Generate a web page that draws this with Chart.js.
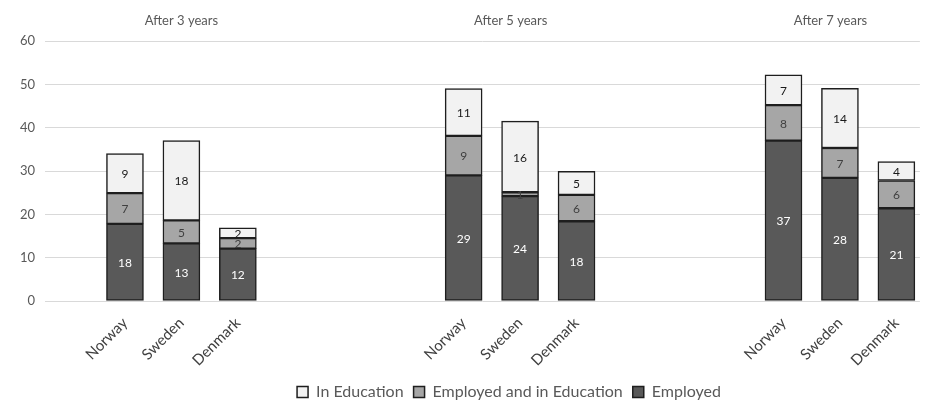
<!DOCTYPE html>
<html>
<head>
<meta charset="utf-8">
<script src="https://cdn.jsdelivr.net/npm/chart.js@4.4.1/dist/chart.umd.min.js"></script>
<style>
  html, body { margin: 0; padding: 0; background: #ffffff; }
  #wrap { width: 933px; height: 414px; }
</style>
</head>
<body>
<div id="wrap"><canvas id="c" width="933" height="414"></canvas></div>
<script>
// ---- data ----
const groups = ['After 3 years', 'After 5 years', 'After 7 years'];
const countries = ['Norway', 'Sweden', 'Denmark'];
const seriesNames = ['Employed', 'Employed and in Education', 'In Education'];
// order: [3y: N,S,D, 5y: N,S,D, 7y: N,S,D]
const employed    = [17.8, 13.3, 12.1, 29.0, 24.2, 18.4, 37.0, 28.4, 21.4];
const employedEdu = [ 7.1,  5.3,  2.4,  9.1,  0.9,  6.1,  8.2,  6.9,  6.4];
const inEducation = [ 9.1, 18.4,  2.4, 10.9, 16.4,  5.4,  7.0, 13.8,  4.4];
const yTicks = [0, 10, 20, 30, 40, 50, 60];

// ---- layout of category slots (blank slots separate the groups) ----
const SLOTS = 93;
const groupStart = [8, 44, 78];
const step = 6;
const titleSlot = [14, 49, 83];

const bottomLabels = new Array(SLOTS).fill('');
const topLabels = new Array(SLOTS).fill('');
const barSlots = [];
groups.forEach((g, gi) => {
  countries.forEach((c, ci) => {
    const s = groupStart[gi] + ci * step;
    bottomLabels[s] = c;
    barSlots.push(s);
  });
  topLabels[titleSlot[gi]] = g;
});
function spread(values) {
  const arr = new Array(SLOTS).fill(null);
  values.forEach((v, i) => { arr[barSlots[i]] = v; });
  return arr;
}

const FONT = "Lato, 'Open Sans', sans-serif";
const colors = ['#595959', '#a6a6a6', '#f2f2f2'];
const labelColors = ['#ffffff', '#404040', '#1a1a1a'];
const seriesValues = [employed, employedEdu, inEducation];

const datasets = seriesValues.map((vals, i) => ({
  label: seriesNames[i],
  data: spread(vals),
  backgroundColor: colors[i],
  borderColor: '#1e1e1e',
  borderWidth: 1.5,
  borderSkipped: false,
  barThickness: 37,
  xAxisID: 'x',
  yAxisID: 'y'
}));

const valueLabels = {
  id: 'valueLabels',
  afterDatasetsDraw(chart) {
    const ctx = chart.ctx;
    ctx.save();
    ctx.font = '12px ' + FONT;
    ctx.textAlign = 'center';
    ctx.textBaseline = 'middle';
    chart.data.datasets.forEach((ds, di) => {
      const meta = chart.getDatasetMeta(di);
      meta.data.forEach((el, idx) => {
        const v = ds.data[idx];
        if (v === null || v === undefined) return;
        const p = el.getProps(['x', 'y', 'base'], true);
        ctx.fillStyle = labelColors[di];
        ctx.fillText(String(Math.round(v)), p.x, (p.y + p.base) / 2 + 1);
      });
    });
    ctx.restore();
  }
};

// shift the legend to the right, as in the original layout
const legendShift = {
  id: 'legendShift',
  afterLayout(chart) {
    if (chart.legend) {
      chart.legend.left += 44;
      chart.legend.right += 44;
    }
  }
};

new Chart(document.getElementById('c'), {
  type: 'bar',
  data: { labels: bottomLabels, datasets },
  options: {
    responsive: false,
    devicePixelRatio: 1,
    animation: false,
    layout: { padding: { left: 0, right: 3, top: 0, bottom: 4 } },
    plugins: {
      legend: {
        position: 'bottom',
        reverse: true,
        labels: {
          boxWidth: 11,
          boxHeight: 11,
          padding: 10,
          color: '#595959',
          font: { family: FONT, size: 16 }
        }
      },
      tooltip: { enabled: false }
    },
    scales: {
      x: {
        type: 'category',
        position: 'bottom',
        stacked: true,
        grid: { display: false },
        border: { display: false },
        ticks: {
          autoSkip: false,
          minRotation: 45,
          maxRotation: 45,
          padding: 5,
          color: '#404040',
          font: { family: FONT, size: 15 }
        },
        afterFit(s) { s.height = 73; }
      },
      xTop: {
        type: 'category',
        position: 'top',
        labels: topLabels,
        grid: { display: false },
        border: { display: false },
        ticks: {
          autoSkip: false,
          minRotation: 0,
          maxRotation: 0,
          padding: 4,
          color: '#595959',
          font: { family: FONT, size: 13 }
        },
        afterFit(s) { s.height = 41; }
      },
      y: {
        stacked: true,
        min: 0,
        max: 60,
        afterBuildTicks(s) { s.ticks = yTicks.map(v => ({ value: v })); },
        grid: { color: '#d9d9d9', lineWidth: 1, drawTicks: false },
        border: { display: false },
        ticks: {
          padding: 10,
          color: '#595959',
          font: { family: FONT, size: 13 }
        },
        afterFit(s) { s.width = 45; }
      }
    }
  },
  plugins: [valueLabels, legendShift]
});
</script>
</body>
</html>
